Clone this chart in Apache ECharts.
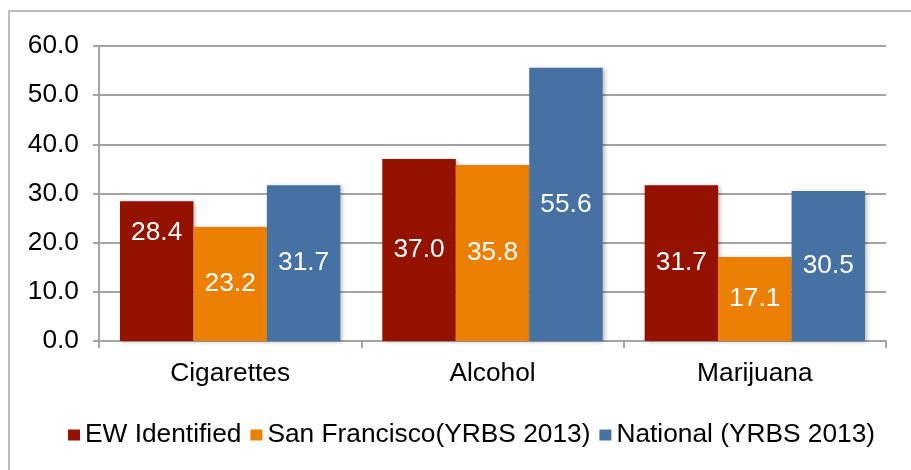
<!DOCTYPE html>
<html>
<head>
<meta charset="utf-8">
<script src="https://cdn.jsdelivr.net/npm/echarts@6/dist/echarts.min.js"></script>
<style>
  html, body { margin: 0; padding: 0; background: #fff; }
  #chart { width: 911px; height: 470px; }
</style>
</head>
<body>
<div id="chart"></div>
<script>
const categories = ['Cigarettes', 'Alcohol', 'Marijuana'];
const seriesNames = ['EW Identified', 'San Francisco(YRBS 2013)', 'National (YRBS 2013)'];
const ewIdentified = [28.4, 37.0, 31.7];
const sanFrancisco = [23.2, 35.8, 17.1];
const national = [31.7, 55.6, 30.5];
const yTicks = [0, 10, 20, 30, 40, 50, 60];

const colors = ['#961200', '#ec8004', '#4672a3'];
const FONT = '"Liberation Sans", Arial, Helvetica, sans-serif';
const gridColor = '#a4a4a4';

function makeSeries(name, values, color, offsets) {
  return {
    name: name,
    type: 'bar',
    barGap: '0%',
    barCategoryGap: '16%',
    data: values.map((v, i) => {
      const item = { value: v };
      if (offsets && offsets[i]) item.label = { offset: offsets[i] };
      return item;
    }),
    itemStyle: {
      color: color,
      shadowColor: 'rgba(0,0,0,0.25)',
      shadowBlur: 4,
      shadowOffsetX: 2,
      shadowOffsetY: 1
    },
    label: {
      show: true,
      position: 'inside',
      color: '#ffffff',
      fontFamily: FONT,
      fontSize: 26.3,
      formatter: p => Number(p.value).toFixed(1)
    }
  };
}

const chart = echarts.init(document.getElementById('chart'), null, { renderer: 'canvas' });
chart.setOption({
  animation: false,
  backgroundColor: '#ffffff',
  graphic: [{
    type: 'rect',
    shape: { x: 9, y: 11, width: 1000, height: 1000 },
    style: { fill: 'none', stroke: '#bcbcbc', lineWidth: 2 },
    silent: true,
    z: -1
  }],
  grid: { left: 99, right: 25, top: 46, bottom: 129, containLabel: false },
  legend: {
    data: seriesNames,
    left: 63,
    top: 417,
    icon: 'rect',
    itemWidth: 12,
    itemHeight: 11,
    itemGap: 9,
    textStyle: { fontFamily: FONT, fontSize: 26.3, color: '#000000' }
  },
  xAxis: {
    type: 'category',
    data: categories,
    axisLine: { show: true, lineStyle: { color: gridColor, width: 2 } },
    axisTick: { show: true, alignWithLabel: false, length: 7, lineStyle: { color: gridColor, width: 2 } },
    axisLabel: { fontFamily: FONT, fontSize: 26.3, color: '#000000', margin: 19, lineHeight: 28 },
    splitLine: { show: false }
  },
  yAxis: {
    type: 'value',
    min: yTicks[0],
    max: yTicks[yTicks.length - 1],
    interval: 10,
    axisLine: { show: true, lineStyle: { color: gridColor, width: 2 } },
    axisTick: { show: true, length: 6, lineStyle: { color: gridColor, width: 2 } },
    axisLabel: {
      fontFamily: FONT, fontSize: 26.3, color: '#000000', margin: 20,
      padding: [4, 0, 0, 0],
      formatter: v => v.toFixed(1)
    },
    splitLine: { show: true, lineStyle: { color: gridColor, width: 2 } }
  },
  series: [
    makeSeries(seriesNames[0], ewIdentified, colors[0], [[0, -38], null, null]),
    makeSeries(seriesNames[1], sanFrancisco, colors[1]),
    makeSeries(seriesNames[2], national, colors[2])
  ]
});
</script>
</body>
</html>
